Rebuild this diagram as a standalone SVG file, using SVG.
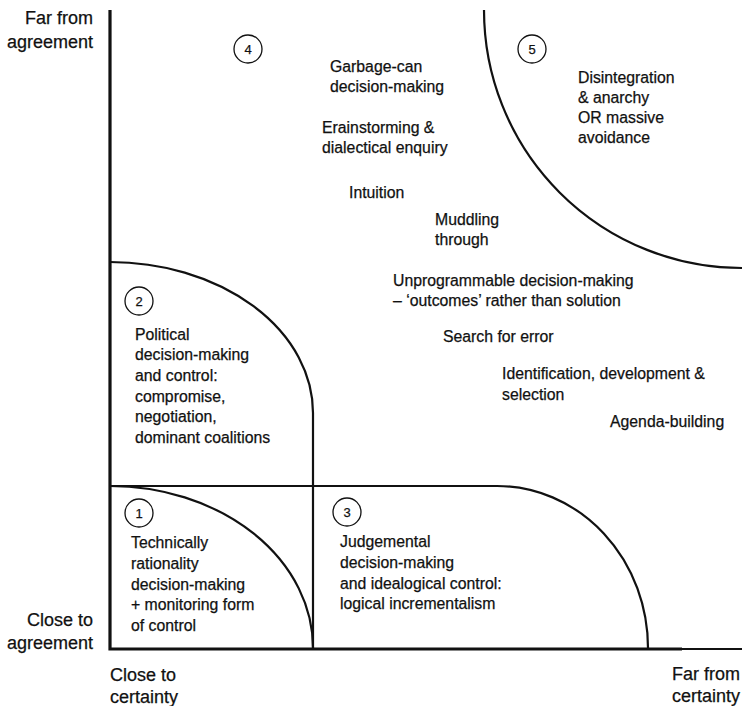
<svg xmlns="http://www.w3.org/2000/svg" width="742" height="706" viewBox="0 0 742 706">
<style>
text{font-family:"Liberation Sans",Arial,sans-serif;font-size:15.8px;fill:#111;stroke:#111;stroke-width:0.25}
.a{font-size:18px}
.r{text-anchor:end}
.n{font-size:13px;text-anchor:middle}
.ln{fill:none;stroke:#111;stroke-width:2.2}
.ax{fill:none;stroke:#111;stroke-width:3.2}
.c{fill:#fff;stroke:#111;stroke-width:1.3}
</style>
<rect width="742" height="706" fill="#fff"/>
<g id="connectors">
<path class="ln" d="M110,262 A203,151 0 0 1 313,413 L313,648"/>
<path class="ln" d="M110,486 L497,486 A151,162 0 0 1 648,648"/>
<path class="ln" d="M110,486 A203,162 0 0 1 313,648"/>
<path class="ln" d="M484,10 A258,258 0 0 0 742,268"/>
<path class="ax" d="M110,10 L110,649 L682,649"/>
<path class="ln" d="M680,649 L742,649"/>
</g>
<g id="axis-y-far"><text class="a r" x="93" y="24">Far from</text><text class="a r" x="93" y="48">agreement</text></g>
<g id="axis-y-close"><text class="a r" x="93" y="626">Close to</text><text class="a r" x="93" y="649">agreement</text></g>
<g id="axis-x-close"><text class="a" x="110" y="681">Close to</text><text class="a" x="110" y="703">certainty</text></g>
<g id="axis-x-far"><text class="a r" x="740" y="680">Far from</text><text class="a r" x="740" y="702">certainty</text></g>
<g id="node1"><circle class="c" cx="139" cy="513" r="14"/><text class="n" x="139" y="518">1</text>
<text x="131" y="548">Technically</text><text x="131" y="569">rationality</text><text x="131" y="590">decision-making</text><text x="131" y="610">+ monitoring form</text><text x="131" y="631">of control</text></g>
<g id="node2"><circle class="c" cx="139" cy="301" r="14"/><text class="n" x="139" y="306">2</text>
<text x="135" y="340">Political</text><text x="135" y="360">decision-making</text><text x="135" y="381">and control:</text><text x="135" y="402">compromise,</text><text x="135" y="422">negotiation,</text><text x="135" y="443">dominant coalitions</text></g>
<g id="node3"><circle class="c" cx="347" cy="512" r="14"/><text class="n" x="347" y="517">3</text>
<text x="340" y="547">Judgemental</text><text x="340" y="568">decision-making</text><text x="340" y="589">and idealogical control:</text><text x="340" y="609">logical incrementalism</text></g>
<g id="node4"><circle class="c" cx="248" cy="49" r="14"/><text class="n" x="248" y="54">4</text>
<text x="330" y="72">Garbage-can</text><text x="330" y="92">decision-making</text>
<text x="322" y="133">Erainstorming &amp;</text><text x="322" y="153">dialectical enquiry</text>
<text x="349" y="198">Intuition</text>
<text x="435" y="225">Muddling</text><text x="435" y="245">through</text>
<text x="393" y="286">Unprogrammable decision-making</text><text x="393" y="306">– ‘outcomes’ rather than solution</text>
<text x="443" y="342">Search for error</text>
<text x="502" y="379">Identification, development &amp;</text><text x="502" y="400">selection</text>
<text x="610" y="427">Agenda-building</text></g>
<g id="node5"><circle class="c" cx="532" cy="49" r="14"/><text class="n" x="532" y="54">5</text>
<text x="578" y="83">Disintegration</text><text x="578" y="103">&amp; anarchy</text><text x="578" y="123">OR massive</text><text x="578" y="143">avoidance</text></g>
</svg>
